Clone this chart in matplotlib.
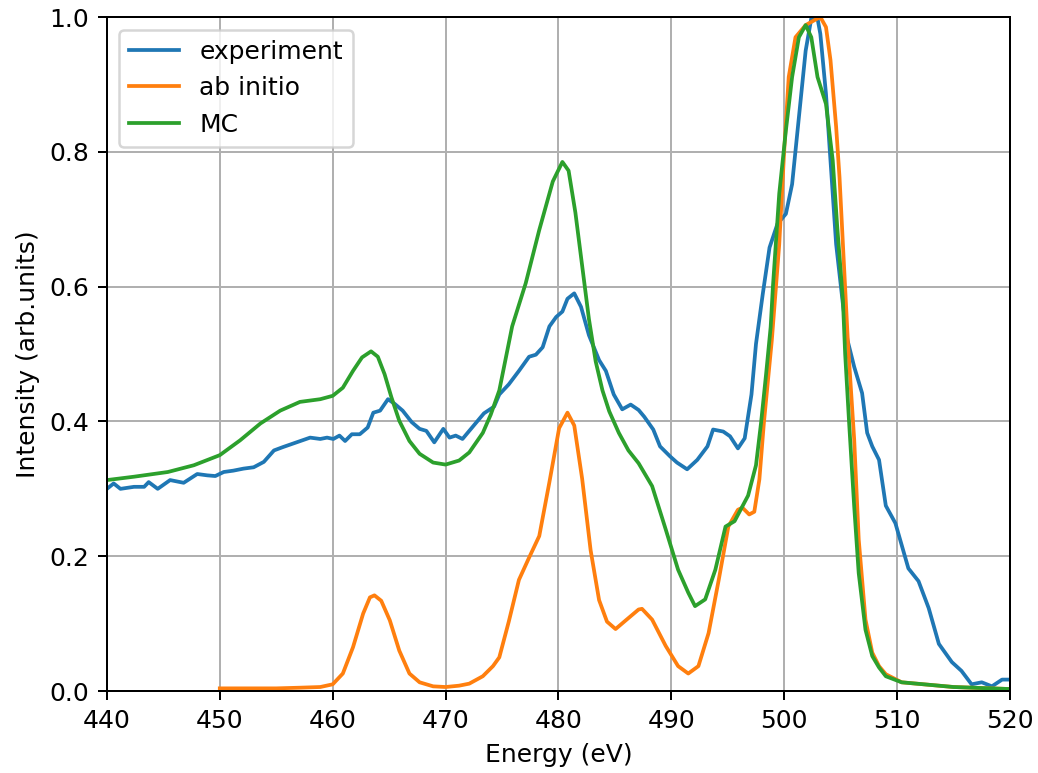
import matplotlib
matplotlib.use("Agg")
import matplotlib.pyplot as plt

# experiment (noisy measured spectrum)
exp_energy = [440.0, 440.6, 441.2, 442.4, 443.3, 443.7, 444.5, 445.6, 446.8, 448.0,
              448.9, 449.6, 450.35, 451.2, 452.1, 453.0, 453.9, 454.8, 455.6, 456.8,
              458.0, 458.9, 459.5, 460.06, 460.6, 461.1, 461.7, 462.4, 463.1, 463.6,
              464.2, 464.9, 465.5, 466.2, 467.0, 467.7, 468.3, 469.0, 469.8, 470.35,
              470.9, 471.5, 472.1, 472.7, 473.4, 474.3, 474.76, 475.6, 476.5, 477.4,
              478.0, 478.6, 479.2, 479.8, 480.35, 480.8, 481.4, 482.0, 482.7, 483.6,
              484.2, 484.9, 485.65, 486.4, 487.1, 487.6, 488.4, 489.0, 489.9, 490.5,
              491.4, 492.3, 493.2, 493.7, 494.6, 495.2, 495.9, 496.5, 497.1, 497.5,
              498.1, 498.7, 499.4, 500.15, 500.7, 501.3, 501.9, 502.4, 502.95, 503.2,
              503.7, 504.1, 504.6, 505.2, 505.6, 506.2, 506.9, 507.35, 507.8, 508.4,
              509.0, 509.85, 511.0, 511.9, 512.8, 513.7, 514.85, 515.7, 516.6, 517.5,
              518.4, 519.3, 520.0]
exp_int = [0.300, 0.308, 0.300, 0.303, 0.303, 0.310, 0.300, 0.313, 0.309, 0.322,
           0.320, 0.319, 0.325, 0.327, 0.330, 0.332, 0.340, 0.357, 0.362, 0.369,
           0.376, 0.374, 0.376, 0.374, 0.379, 0.371, 0.381, 0.381, 0.391, 0.413,
           0.416, 0.433, 0.426, 0.416, 0.399, 0.389, 0.386, 0.369, 0.389, 0.376,
           0.379, 0.374, 0.386, 0.398, 0.412, 0.422, 0.440, 0.455, 0.475, 0.496,
           0.499, 0.510, 0.541, 0.555, 0.563, 0.582, 0.590, 0.570, 0.528, 0.491,
           0.475, 0.440, 0.418, 0.425, 0.417, 0.407, 0.388, 0.363, 0.348, 0.339,
           0.329, 0.343, 0.363, 0.388, 0.385, 0.378, 0.360, 0.375, 0.440, 0.515,
           0.589, 0.658, 0.693, 0.708, 0.752, 0.851, 0.950, 0.998, 0.998, 0.975,
           0.886, 0.787, 0.663, 0.574, 0.521, 0.481, 0.442, 0.383, 0.363, 0.343,
           0.275, 0.249, 0.182, 0.163, 0.123, 0.070, 0.043, 0.030, 0.010, 0.013,
           0.007, 0.017, 0.017]

# ab initio
abi_energy = [450.0, 455.0, 457.1, 458.9, 460.0, 460.9, 461.8, 462.7, 463.3, 463.7,
              464.3, 465.06, 465.9, 466.8, 467.7, 468.9, 470.0, 471.2, 472.1, 473.3,
              474.2, 474.76, 475.6, 476.5, 477.4, 478.3, 479.2, 480.06, 480.8, 481.4,
              482.1, 482.85, 483.6, 484.3, 485.06, 485.9, 487.1, 487.4, 488.3, 489.5,
              490.6, 491.5, 492.4, 493.3, 494.2, 495.05, 495.9, 496.3, 496.9, 497.35,
              497.8, 498.2, 498.9, 499.56, 500.0, 500.4, 501.0, 501.9, 502.65, 503.2,
              503.7, 504.1, 504.6, 504.9, 505.2, 505.65, 506.2, 506.6, 507.2, 507.8,
              508.4, 509.0, 510.4, 515.0, 520.0]
abi_int = [0.004, 0.004, 0.005, 0.006, 0.010, 0.026, 0.065, 0.115, 0.139, 0.142,
           0.134, 0.105, 0.060, 0.026, 0.013, 0.007, 0.006, 0.008, 0.011, 0.022,
           0.037, 0.050, 0.103, 0.165, 0.198, 0.230, 0.310, 0.390, 0.413, 0.394,
           0.315, 0.209, 0.135, 0.103, 0.092, 0.104, 0.121, 0.122, 0.106, 0.067,
           0.037, 0.026, 0.037, 0.086, 0.165, 0.244, 0.269, 0.272, 0.262, 0.266,
           0.314, 0.398, 0.520, 0.663, 0.802, 0.911, 0.970, 0.988, 0.995, 1.000,
           0.985, 0.936, 0.837, 0.762, 0.663, 0.515, 0.373, 0.225, 0.106, 0.057,
           0.037, 0.025, 0.013, 0.006, 0.003]

# MC
mc_energy = [440.0, 442.4, 445.4, 447.7, 450.0, 451.8, 453.6, 455.35, 457.1, 458.9,
             460.0, 460.9, 461.8, 462.6, 463.4, 464.0, 464.6, 465.2, 465.9, 466.8,
             467.7, 468.9, 470.0, 471.2, 472.1, 473.3, 474.0, 474.76, 475.9, 477.1,
             478.3, 479.5, 480.35, 480.9, 481.5, 482.1, 482.7, 483.3, 483.9, 484.5,
             485.35, 486.2, 487.1, 488.3, 489.5, 490.6, 491.5, 492.1, 493.0, 493.9,
             494.8, 495.6, 496.8, 497.5, 497.95, 498.4, 498.8, 499.0, 499.56, 500.15,
             500.7, 501.3, 501.9, 502.4, 502.95, 503.7, 504.3, 504.7, 505.2, 505.4,
             505.75, 506.2, 506.6, 507.2, 507.8, 508.4, 509.0, 510.4, 515.0, 520.0]
mc_int = [0.313, 0.318, 0.325, 0.335, 0.350, 0.372, 0.397, 0.416, 0.429, 0.433,
          0.438, 0.450, 0.475, 0.495, 0.504, 0.496, 0.470, 0.436, 0.401, 0.371,
          0.352, 0.339, 0.336, 0.342, 0.354, 0.383, 0.410, 0.446, 0.541, 0.605,
          0.684, 0.756, 0.785, 0.772, 0.710, 0.631, 0.552, 0.489, 0.446, 0.415,
          0.383, 0.357, 0.338, 0.304, 0.240, 0.180, 0.146, 0.126, 0.136, 0.180,
          0.244, 0.252, 0.290, 0.335, 0.398, 0.471, 0.540, 0.600, 0.738, 0.832,
          0.911, 0.970, 0.988, 0.970, 0.911, 0.871, 0.787, 0.688, 0.580, 0.500,
          0.398, 0.274, 0.175, 0.091, 0.052, 0.035, 0.022, 0.013, 0.006, 0.003]

fig = plt.figure(figsize=(1038 / 180, 773 / 180), dpi=180)
plt.subplots_adjust(left=0.103, right=0.973, top=0.978, bottom=0.106)

plt.plot(exp_energy, exp_int, label='experiment')
plt.plot(abi_energy, abi_int, label='ab initio')
plt.plot(mc_energy, mc_int, label='MC')

plt.xlim(440, 520)
plt.ylim(0, 1)
plt.xlabel('Energy (eV)')
plt.ylabel('Intensity (arb.units)')
plt.grid(True)
plt.legend(loc='upper left')

plt.savefig('out.png', dpi=180)
plt.close()
